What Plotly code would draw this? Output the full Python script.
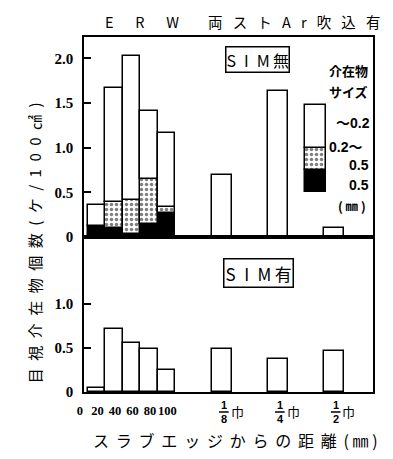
import plotly.graph_objects as go

# ---------------- data ----------------
bin_labels = ["0", "20", "40", "60", "80", "100"]        # x tick labels (mm)
bin_lo = [0, 20, 40, 60, 80]                               # lower bin edge (mm)
frac_num = ["1", "1", "1"]
frac_den = ["8", "4", "2"]
frac_unit = "巾"

# top panel: SIM無 (stacked by inclusion size)
top_black = [0.12, 0.10, 0.03, 0.15, 0.27]   # 0.5mm ~
top_dot = [None, 0.29, 0.38, 0.50, 0.07]     # 0.2 ~ 0.5mm
top_white = [0.24, 1.28, 1.62, 0.76, 0.83]   # ~ 0.2mm
top_frac = [0.70, 1.64, 0.10]

# bottom panel: SIM有
bot_bins = [0.05, 0.72, 0.56, 0.49, 0.25]
bot_frac = [0.49, 0.37, 0.47]

# ---------------- layout constants ----------------
BIN_W = 20
FRAC_X = [153.3, 217.2, 281.0]
FRAC_W = 22
XR = [-4.44, 325.6]
LINE = dict(color="black", width=1.5)
DOT = dict(shape=".", bgcolor="white", fgcolor="black", size=5, solidity=0.38)
NUMF = dict(family="Liberation Serif", size=15, color="black", weight="bold")
JPF = "Noto Sans CJK JP"
BODY = 8  # default page body margin

bin_x = [b + BIN_W / 2 for b in bin_lo]

def cum(a, b):
    return [(x or 0) + (y or 0) for x, y in zip(a, b)]

fig = go.Figure()

# top panel bars
fig.add_bar(x=bin_x, y=top_black, width=BIN_W, marker=dict(color="black", line=LINE),
            xaxis="x", yaxis="y", showlegend=False)
fig.add_bar(x=bin_x, y=top_dot, base=top_black, width=BIN_W,
            marker=dict(color="white", line=LINE, pattern=DOT),
            xaxis="x", yaxis="y", showlegend=False)
fig.add_bar(x=bin_x, y=top_white, base=cum(top_black, top_dot), width=BIN_W,
            marker=dict(color="white", line=LINE), xaxis="x", yaxis="y", showlegend=False)
fig.add_bar(x=FRAC_X, y=top_frac, width=FRAC_W, marker=dict(color="white", line=LINE),
            xaxis="x", yaxis="y", showlegend=False)

# legend key (size classes) inside top panel
KEY_X, KEY_W = 260, 24.4
key_base = [0.504, 0.75, 0.997]
key_h = [0.246, 0.247, 0.481]
fig.add_bar(x=[KEY_X], y=[key_h[0]], base=[key_base[0]], width=KEY_W,
            marker=dict(color="black", line=LINE), xaxis="x", yaxis="y", showlegend=False)
fig.add_bar(x=[KEY_X], y=[key_h[1]], base=[key_base[1]], width=KEY_W,
            marker=dict(color="white", line=LINE, pattern=DOT), xaxis="x", yaxis="y", showlegend=False)
fig.add_bar(x=[KEY_X], y=[key_h[2]], base=[key_base[2]], width=KEY_W,
            marker=dict(color="white", line=LINE), xaxis="x", yaxis="y", showlegend=False)

# bottom panel bars
fig.add_bar(x=bin_x, y=bot_bins, width=BIN_W, marker=dict(color="white", line=LINE),
            xaxis="x2", yaxis="y2", showlegend=False)
fig.add_bar(x=FRAC_X, y=bot_frac, width=FRAC_W, marker=dict(color="white", line=LINE),
            xaxis="x2", yaxis="y2", showlegend=False)

SPLIT = 155 / 355

axis_common = dict(showline=True, mirror=True, linecolor="black", linewidth=1.5,
                   showgrid=False, zeroline=False, automargin=False)

fig.update_layout(
    width=393 - 2 * BODY, height=459 - 2 * BODY,
    margin=dict(l=84 - BODY, r=12 - BODY + 8, t=37 - BODY, b=67 - BODY),
    paper_bgcolor="white", plot_bgcolor="white",
    barmode="overlay", bargap=0,
    xaxis=dict(domain=[0, 1], anchor="y", range=XR, showticklabels=False, ticks="", **axis_common),
    xaxis2=dict(domain=[0, 1], anchor="y2", range=XR, matches="x",
                tickmode="array", tickvals=bin_lo + [100], ticktext=bin_labels,
                ticks="", tickangle=0,
                tickfont=dict(family="Liberation Serif", size=12.5, color="black", weight="bold"),
                ticklabelshift=-8, ticklabelstandoff=6, **axis_common),
    yaxis=dict(domain=[SPLIT, 1], anchor="x", range=[0, 2.24],
               tickmode="array", tickvals=[0, 0.5, 1.0, 1.5, 2.0],
               ticktext=["0", "0.5", "1.0", "1.5", "2.0"],
               ticks="inside", ticklen=7, tickwidth=1.5, tickcolor="black",
               tickfont=NUMF, ticklabelstandoff=6, **axis_common),
    yaxis2=dict(domain=[0, SPLIT], anchor="x2", range=[0, 1.76],
                tickmode="array", tickvals=[0, 0.5, 1.0],
                ticktext=["0", "0.5", "1.0"],
                ticks="inside", ticklen=7, tickwidth=1.5, tickcolor="black",
                tickfont=NUMF, ticklabelstandoff=6, **axis_common),
)

def px(xp):
    return (xp - 84) / 297

def py(yp):
    return (392 - yp) / 355

EN, EM, TH = "\u2002", "\u2003", "\u2009"
ann = []
# title
title_txt = "E" + EN * 3 + "R" + EN * 3 + "W" + EM * 2 + (EN + TH).join("両ストAr吹込有")
ann.append(dict(text=title_txt, x=px(247), y=py(8.5), yanchor="top",
                font=dict(family=JPF, size=14.5, color="black")))
# panel labels
ann.append(dict(text="S" + EN + "I" + EN + "M" + TH + "無", x=px(262.5), y=py(59),
                bordercolor="black", borderwidth=1.5, borderpad=0,
                font=dict(family=JPF, size=16, color="black")))
ann.append(dict(text="S" + EN + "I" + EN + "M" + TH + "有", x=px(263.5), y=py(272.5),
                bordercolor="black", borderwidth=1.5, borderpad=1,
                font=dict(family=JPF, size=17, color="black")))
# legend texts
LF = dict(family=JPF, size=13, color="black", weight="bold")
NF = dict(family="Liberation Sans, Noto Sans CJK JP", size=14, color="black", weight="bold")
ann += [
    dict(text="介在物", x=px(356), y=py(71), font=LF),
    dict(text="サイズ", x=px(356), y=py(91), font=LF),
    dict(text="〜0.2", x=px(360), y=py(123), font=NF),
    dict(text="0.2〜", x=px(353), y=py(147), font=NF),
    dict(text="0.5", x=px(367), y=py(164.5), font=NF),
    dict(text="0.5", x=px(367), y=py(185), font=NF),
    dict(text="( ㎜ )", x=px(359), y=py(205), font=dict(family=JPF, size=12.5, color="black", weight="bold")),
]
# y title
ann.append(dict(text=EN.join("目視介在物個数(ケ/100㎠)"), x=px(33), y=py(243), textangle=-90,
                font=dict(family=JPF, size=15, color="black")))
# x title
ann.append(dict(text=(" " + TH).join("スラブエッジからの距離") + " " + TH + "( ㎜ )", x=px(240), y=py(440),
                font=dict(family=JPF, size=16, color="black")))

for a in ann:
    a.setdefault("xref", "paper")
    a.setdefault("yref", "paper")
    a.setdefault("showarrow", False)
    a.setdefault("xanchor", "center")
    a.setdefault("yanchor", "middle")

shapes = []
# fraction tick labels
for xv, n, d in zip(FRAC_X, frac_num, frac_den):
    ann.append(dict(text=f"{n}<br>{d}", x=xv, xref="x2", y=py(412), yref="paper",
                    xshift=2, showarrow=False, xanchor="center", yanchor="middle",
                    font=dict(family="Liberation Sans", size=11, color="black", weight="bold")))
    ann.append(dict(text=frac_unit, x=xv, xref="x2", y=py(411), yref="paper",
                    xshift=15, showarrow=False, xanchor="center", yanchor="middle",
                    font=dict(family=JPF, size=13, color="black")))
    shapes.append(dict(type="line", xref="x2", yref="paper", x0=xv - 3.5, x1=xv + 7.5,
                       y0=py(412), y1=py(412), line=dict(color="black", width=1.5)))

fig.update_layout(annotations=ann, shapes=shapes)
fig.write_html("out.html")
